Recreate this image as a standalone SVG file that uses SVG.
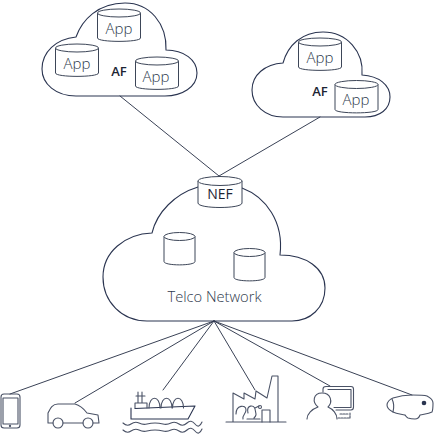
<svg xmlns="http://www.w3.org/2000/svg" width="437" height="437" viewBox="0 0 437 437">
<style>
.s{fill:none;stroke:#2a3450;stroke-width:1.1;stroke-linejoin:round;stroke-linecap:round}
.g{fill:none;stroke:#4a5266;stroke-width:1.1;stroke-linejoin:round;stroke-linecap:round}
.l{fill:none;stroke:#3a4256;stroke-width:1;stroke-linecap:round}
.c{fill:#fff;stroke:#3d4658;stroke-width:1}
.t{font-family:"Open Sans",sans-serif;fill:#2f3a4d;text-anchor:middle}
.a{font-size:15px;font-weight:300}
.b{font-size:13px;font-weight:600;fill:#1d2433}
</style>
<defs>
<g id="cyl"><path class="c" d="M-21.5-12.5V12.5C-21.500 17 21.500 17 21.500 12.500V-12.500"/><ellipse class="c" cx="0" cy="-12.500" rx="21.500" ry="4"/></g>
<g id="cyls"><path class="c" d="M-15.500-12.500V12.500C-15.500 17 15.500 17 15.500 12.500V-12.500"/><ellipse class="c" cx="0" cy="-12.500" rx="15.500" ry="4"/></g>
</defs>
<g id="connectors">
<path class="l" d="M120 96L219 176M320 117L219 176"/>
<path class="l" d="M214 321L10 394M214 321L75 403M214 321L163 390M214 321L255 390M214 321L330 386M214 321L412 395"/>
</g>
<g id="af-cloud-1">
<path class="s" d="M76 37C82 20 98 3 125 3C150 3 167 24 166 50C184 50 197 60 197 73C197 87 182 96 165 96H76C56 96 42 84 42 69C42 52 56 39 76 37Z"/>
<use href="#cyl" x="119" y="25.500"/><text class="t a" x="119" y="34">App</text>
<use href="#cyl" x="77" y="60.500"/><text class="t a" x="77" y="69">App</text>
<use href="#cyl" x="157" y="73.500"/><text class="t a" x="156" y="82">App</text>
<text class="t b" x="119" y="76">AF</text>
</g>
<g id="af-cloud-2">
<path class="s" d="M283 63C288 45 302 32 323 32C347 32 364 52 362 75C379 76 390 85 390 97C390 109 380 117 365 117H283C265 117 252 105 252 90C252 75 265 64 283 63Z"/>
<use href="#cyl" x="320" y="54.500"/><text class="t a" x="320" y="63">App</text>
<use href="#cyl" x="356.500" y="97"/><text class="t a" x="356" y="105">App</text>
<text class="t b" x="320" y="96">AF</text>
</g>
<g id="telco-cloud">
<path class="s" d="M242 188C266 197 284 222 280 255C306 255 325 268 325 288C325 308 310 321 292 321H147C122 321 103 302 103 277C103 252 125 234 152 233C157 212 175 194 198 187"/>
<use href="#cyls" x="179.500" y="249"/>
<use href="#cyls" x="249.500" y="265"/>
<text class="t" style="font-size:14.700px;font-weight:300" x="214.500" y="302">Telco Network</text>
</g>
<g id="nef">
<path class="c" d="M198 181V203C198 209 242 209 242 203V181"/>
<ellipse class="c" cx="220" cy="181" rx="22" ry="4.500"/>
<text class="t" style="font-size:14px;font-weight:500;fill:#1d2433" x="220" y="199">NEF</text>
</g>
<g id="phone" class="g">
<rect x="1" y="394" width="19" height="34" rx="3"/><path d="M3 398H18V424H3Z"/><circle cx="10" cy="426" r="0.600"/>
</g>
<g id="car" class="g">
<path d="M53 423H48V413C50 409 52 404 58 404H75C79 405 84 409 87 413L98 415L99 423H93M83 423H63"/>
<circle cx="58" cy="423" r="5"/><circle cx="88" cy="423" r="5"/>
</g>
<g id="ship" class="g">
<path d="M131 408V419H188L195 406L135 408.500" style="stroke:#2a3450"/>
<path d="M135 408V403H147V408M138 403V392M142 403V392M136 396H145"/>
<path d="M149 408C149 395 160 395 160 408M161 408C161 395 172 395 172 408M172.500 408C172.500 395 183.500 395 183.500 408"/>
<path d="M123 423Q127 427 131 424T139 423T147 424T155 423T163 424T171 423T179 424T187 423T195 424T202 422"/>
<path d="M123 430Q127 434 131 431T139 430T147 431T155 430T163 431T171 430T179 431T187 430T195 431T202 429"/>
</g>
<g id="factory" class="g">
<path d="M226 422H286M233 422V393L244 399L244 393L255 399L256 391L267 398L272 376H278V422"/>
<path d="M262 422V410H270V422"/>
<path d="M236 414C236 405 246 404 246 410C246 414 242 415 243 419M248 413C246 405 254 404 255 409C256 414 257 415 254 418M247 419H260M255 408L259 406"/>
<circle cx="260" cy="407" r="1.500"/>
</g>
<g id="monitor" class="g">
<path d="M323 392V389Q323 386.500 326 386.500H351Q353.500 386.500 353.500 389V407Q353.500 410 351 410H336"/>
<path d="M328 389.500H351V407.500H334"/>
<path d="M307 419C307 414 312 409 318 407C312 402 313 393 322 393C331 393 333 402 328 407C333 409 337 414 337 419"/>
<path d="M338 418H350V412M340 414H348" stroke-dasharray="2 1"/>
</g>
<g id="goggles" class="g">
<path d="M393 398C399 396 405 395 412 395C418 395 424 395 427 396C431 398 433 400 433 403C433 407 433 410 432 412C428 414 424 414 420 415C419 418 417 419 415 419C411 419 408 418 408 418C406 417 406 416 405 415C401 414 397 414 393 412C389 410 387 408 387 405C387 402 390 399 393 398Z"/>
<path d="M392 399C394 403 394 408 393 412"/>
<circle cx="424" cy="403" r="2.300" fill="#2a3450" stroke="none"/>
</g>
</svg>
